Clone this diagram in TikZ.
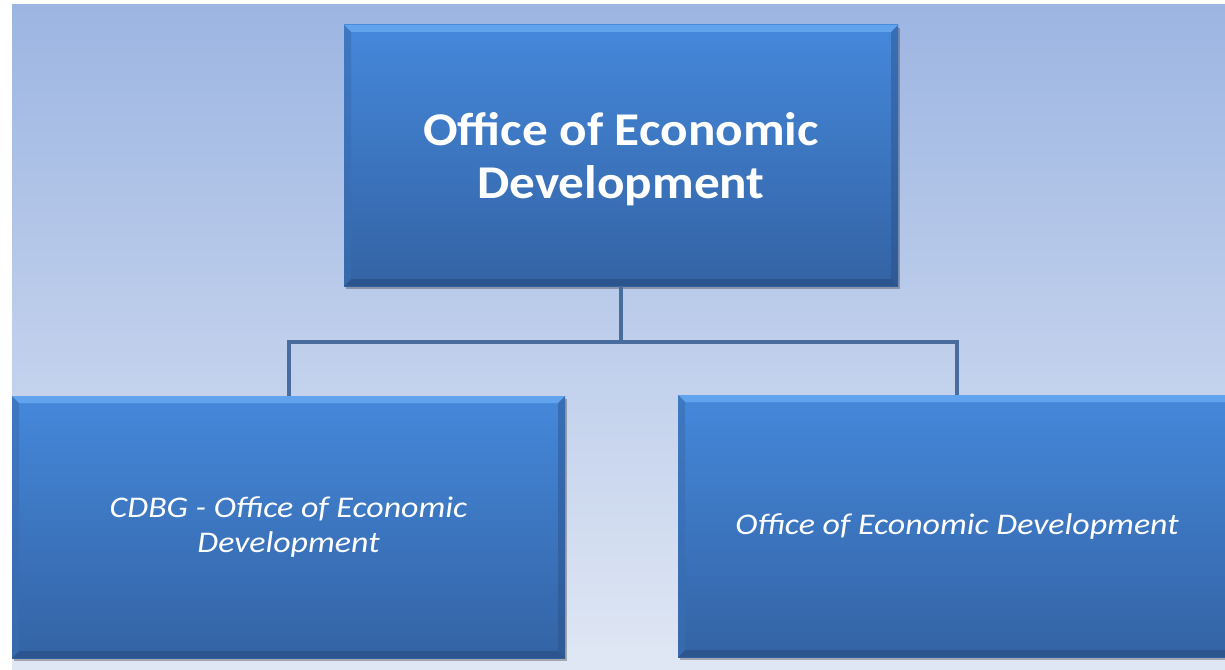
\documentclass[tikz,border=0pt]{standalone}
\usepackage{fontspec}
\setmainfont{Carlito}
\newfontfamily\topfont[FakeStretch=1.09]{Carlito}
\newfontfamily\subfont[FakeStretch=1.13]{Carlito}
\usetikzlibrary{shadows}
\definecolor{bgtop}{HTML}{9CB5E2}
\definecolor{bgbot}{HTML}{E0E7F4}
\definecolor{boxtop}{HTML}{4588DB}
\definecolor{boxbot}{HTML}{3363A4}
\definecolor{bevlight}{HTML}{6AAAF2}
\definecolor{bevdark}{HTML}{2A5086}
\definecolor{bevside}{HTML}{3A6DB2}
\definecolor{conncol}{HTML}{486C9E}
\tikzset{
  orgbox/.style={rectangle, inner sep=0pt, text=white, align=center,
    top color=boxtop, bottom color=boxbot,
    drop shadow={shadow xshift=2pt, shadow yshift=-3pt, opacity=0.35, fill=black!80},
    path picture={
      \fill[bevlight,opacity=0.8] (path picture bounding box.north west) -- (path picture bounding box.north east)
        -- ([xshift=-7pt,yshift=-7pt]path picture bounding box.north east) -- ([xshift=7pt,yshift=-7pt]path picture bounding box.north west) -- cycle;
      \fill[bevdark,opacity=0.7] (path picture bounding box.south west) -- (path picture bounding box.south east)
        -- ([xshift=-7pt,yshift=7pt]path picture bounding box.south east) -- ([xshift=7pt,yshift=7pt]path picture bounding box.south west) -- cycle;
      \fill[bevside,opacity=0.6] (path picture bounding box.north west) -- ([xshift=7pt,yshift=-7pt]path picture bounding box.north west)
        -- ([xshift=7pt,yshift=7pt]path picture bounding box.south west) -- (path picture bounding box.south west) -- cycle;
      \fill[bevdark,opacity=0.45] (path picture bounding box.north east) -- ([xshift=-7pt,yshift=-7pt]path picture bounding box.north east)
        -- ([xshift=-7pt,yshift=7pt]path picture bounding box.south east) -- (path picture bounding box.south east) -- cycle;
    }},
  toptext/.style={font=\topfont\fontsize{47}{53}\selectfont\bfseries},
  subtext/.style={font=\subfont\fontsize{30}{35}\selectfont\itshape},
  conn/.style={draw=conncol, line width=4pt}
}
\begin{document}
\begin{tikzpicture}[x=1pt,y=-1pt]
\useasboundingbox (0,0) rectangle (1225,669);
\clip (0,0) rectangle (1225,669);
\fill[white] (0,0) rectangle (1225,669);
\shade[top color=bgtop, bottom color=bgbot] (12,5) rectangle (1225,669);

\node[orgbox, minimum width=554pt, minimum height=261pt] (top) at (621,155.5) {};
\node[toptext, text=white, align=center] (toptxt) at (621,159.5)
  {Office of Economic\\Development};
\node[orgbox, subtext, minimum width=553pt, minimum height=262pt] (left) at (288.5,527)
  {CDBG - Office of Economic\\Development};
\node[orgbox, subtext, minimum width=558pt, minimum height=262pt] (right) at (957,526)
  {Office of Economic Development};

\coordinate (j) at (622,342);
\draw[conn] (top.south) -- (top.south |- j) -| (left.north);
\draw[conn] (top.south |- j) -| (right.north);
\end{tikzpicture}
\end{document}
